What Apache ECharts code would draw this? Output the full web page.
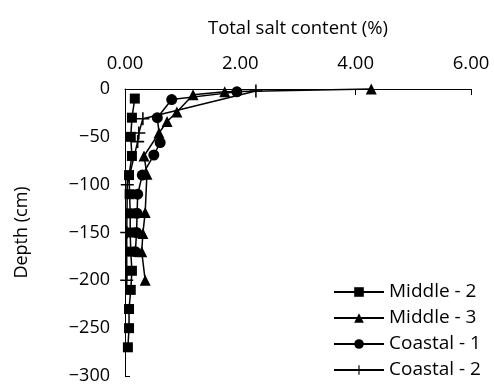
<!DOCTYPE html>
<html><head><meta charset="utf-8">
<script src="https://cdn.jsdelivr.net/npm/echarts@6/dist/echarts.min.js"></script>
<style>html,body{margin:0;padding:0;background:#fff}#c{width:494px;height:385px}</style>
</head><body><div id="c"></div>
<script>
// Data (depth in cm, total salt content in %)
const seriesNames = ['Middle - 2', 'Middle - 3', 'Coastal - 1', 'Coastal - 2'];
const middle2Depth = [-10, -30, -50, -70, -90, -110, -130, -150, -170, -190, -210, -230, -250, -270];
const middle2Salt  = [0.17, 0.12, 0.10, 0.12, 0.07, 0.08, 0.09, 0.09, 0.10, 0.12, 0.10, 0.07, 0.07, 0.05];
const middle3Depth = [0, -3, -6, -24, -34, -46, -70, -89, -129, -151, -170, -200];
const middle3Salt  = [4.27, 1.73, 1.18, 0.90, 0.73, 0.59, 0.33, 0.38, 0.35, 0.31, 0.29, 0.35];
const coastal1Depth = [-3, -11, -30, -56, -69, -90, -110, -130, -150, -170];
const coastal1Salt  = [1.94, 0.81, 0.56, 0.61, 0.50, 0.30, 0.22, 0.21, 0.20, 0.18];
const coastal2Depth = [-2, -31, -46, -55, -100, -150, -200];
const coastal2Salt  = [2.27, 0.31, 0.24, 0.22, 0.04, 0.03, 0.03];
const xTicks = [0, 2, 4, 6];
const yTicks = [0, -50, -100, -150, -200, -250, -300];

const FONT = 'Open Sans';
const crossPath = 'path://M0,44L100,44L100,56L0,56Z M44,0L56,0L56,100L44,100Z';
function pairs(xs, ys) { return xs.map((x, i) => [x, ys[i]]); }
function mk(name, xs, ys, symbol, size) {
  return {
    name: name, type: 'line', data: pairs(xs, ys),
    symbol: symbol, symbolSize: size, showAllSymbol: true,
    lineStyle: { color: '#000', width: 1.5 },
    itemStyle: { color: '#000' },
    clip: false, animation: false
  };
}
const chart = echarts.init(document.getElementById('c'), null, { renderer: 'canvas' });
chart.setOption({
  animation: false,
  backgroundColor: '#fff',
  grid: { left: 125, top: 89, right: 23, bottom: 8, containLabel: false },
  xAxis: {
    type: 'value', position: 'top', min: xTicks[0], max: xTicks[xTicks.length - 1], interval: 2,
    name: 'Total salt content (%)', nameLocation: 'middle', nameGap: 51,
    nameTextStyle: { fontFamily: FONT, fontSize: 18.5, color: '#000' },
    axisLine: { show: true, lineStyle: { color: '#000', width: 1 } },
    axisTick: { show: true, inside: true, length: 6, lineStyle: { color: '#000' } },
    axisLabel: { fontFamily: FONT, fontSize: 18.5, color: '#000', margin: 16, formatter: v => v.toFixed(2) },
    splitLine: { show: false }
  },
  yAxis: {
    type: 'value', min: yTicks[yTicks.length - 1], max: yTicks[0], interval: 50,
    name: 'Depth (cm)', nameLocation: 'middle', nameGap: 94,
    nameTextStyle: { fontFamily: FONT, fontSize: 18, color: '#000' },
    axisLine: { show: true, lineStyle: { color: '#000', width: 1 } },
    axisTick: { show: true, inside: true, length: 5, lineStyle: { color: '#000' } },
    axisLabel: { fontFamily: FONT, fontSize: 18, color: '#000', margin: 15,
      formatter: v => (v < 0 ? '\u2212' + Math.abs(v) : String(v)) },
    splitLine: { show: false }
  },
  legend: {
    orient: 'vertical', left: 333, top: 282, padding: 0, itemWidth: 50, itemHeight: 12, itemGap: 6,
    textStyle: { fontFamily: FONT, fontSize: 19, color: '#000', lineHeight: 20 },
    data: seriesNames
  },
  series: [
    mk(seriesNames[0], middle2Salt, middle2Depth, 'rect', 10),
    mk(seriesNames[1], middle3Salt, middle3Depth, 'triangle', 11),
    mk(seriesNames[2], coastal1Salt, coastal1Depth, 'circle', 11),
    mk(seriesNames[3], coastal2Salt, coastal2Depth, crossPath, 13)
  ]
});
</script></body></html>
